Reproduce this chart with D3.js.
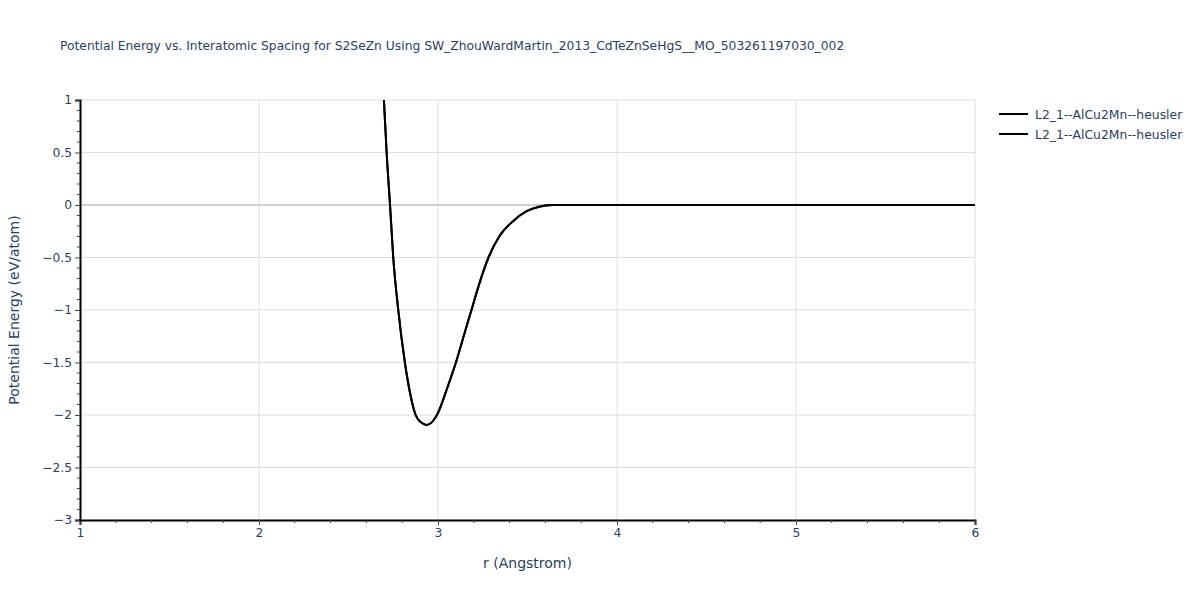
<!DOCTYPE html>
<html>
<head>
<meta charset="utf-8">
<script src="https://cdn.jsdelivr.net/npm/d3@7"></script>
<style>
  body { margin: 0; background: #fff; }
  svg { display: block; }
  text { font-family: "DejaVu Sans", Verdana, sans-serif; fill: #2a3f5f; }
</style>
</head>
<body>
<svg id="chart" width="1200" height="600"></svg>
<script>
const titleText = "Potential Energy vs. Interatomic Spacing for S2SeZn Using SW_ZhouWardMartin_2013_CdTeZnSeHgS__MO_503261197030_002";
const xTitle = "r (Angstrom)";
const yTitle = "Potential Energy (eV/atom)";
const seriesNames = ["L2_1--AlCu2Mn--heusler", "L2_1--AlCu2Mn--heusler"];
const xTicks = [1, 2, 3, 4, 5, 6];
const yTicks = [1, 0.5, 0, -0.5, -1, -1.5, -2, -2.5, -3];
const rValues = [2.68, 2.698, 2.713, 2.732, 2.750, 2.778, 2.815, 2.845, 2.875, 2.905, 2.937, 2.965, 3.000, 3.048, 3.100, 3.145, 3.187, 3.227, 3.282, 3.342, 3.416, 3.490, 3.565, 3.640, 3.700, 4.0, 5.0, 6.0];
const eValues = [1.6, 1.0, 0.5, 0.0, -0.5, -1.0, -1.5, -1.8, -2.0, -2.07, -2.095, -2.07, -1.98, -1.76, -1.5, -1.24, -1.0, -0.77, -0.5, -0.30, -0.159, -0.064, -0.016, -0.001, 0, 0, 0, 0];

const svg = d3.select("#chart");
const m = { left: 80, right: 975, top: 100, bottom: 520 };
const x = d3.scaleLinear().domain([1, 6]).range([m.left, m.right]);
const y = d3.scaleLinear().domain([-3, 1]).range([m.bottom, m.top]);

// grid
const g = svg.append("g");
g.selectAll(".vg").data(xTicks.slice(1)).enter().append("line")
  .attr("x1", d => x(d)).attr("x2", d => x(d)).attr("y1", m.top).attr("y2", m.bottom)
  .attr("stroke", "#dedede").attr("stroke-width", 1);
g.selectAll(".hg").data(yTicks.filter(d => d !== 0 && d !== -3)).enter().append("line")
  .attr("x1", m.left).attr("x2", m.right).attr("y1", d => y(d)).attr("y2", d => y(d))
  .attr("stroke", "#dedede").attr("stroke-width", 1);
// zero line
g.append("line").attr("x1", m.left).attr("x2", m.right).attr("y1", y(0)).attr("y2", y(0))
  .attr("stroke", "#cfcfcf").attr("stroke-width", 2);

// clip
svg.append("clipPath").attr("id", "clip").append("rect")
  .attr("x", m.left).attr("y", m.top).attr("width", m.right - m.left).attr("height", m.bottom - m.top);

const pts = rValues.map((r, i) => [r, eValues[i]]);
const line = d3.line().x(d => x(d[0])).y(d => y(d[1])).curve(d3.curveMonotoneX);
seriesNames.forEach(() => {
  svg.append("path").attr("clip-path", "url(#clip)").attr("d", line(pts))
    .attr("fill", "none").attr("stroke", "#000").attr("stroke-width", 2);
});

// axes
const xAxis = d3.axisBottom(x).tickValues(xTicks).tickSize(5).tickPadding(3).tickFormat(d3.format("d"));
const xa = svg.append("g").attr("transform", `translate(0,${m.bottom})`).call(xAxis);
const yAxis = d3.axisLeft(y).tickValues(yTicks).tickSize(5).tickPadding(3)
  .tickFormat(d => d3.format("")(d).replace("-", "\u2212"));
const ya = svg.append("g").attr("transform", `translate(${m.left},0)`).call(yAxis);
[xa, ya].forEach(a => {
  a.select(".domain").attr("stroke", "#000").attr("stroke-width", 2);
  a.selectAll(".tick line").attr("stroke", "#444");
  a.selectAll(".tick text").style("font-size", "12.3px").attr("fill", "#2a3f5f");
});
// minor ticks
const xMinor = d3.range(1, 6.001, 0.2).filter(v => Math.abs(v - Math.round(v)) > 1e-6);
svg.append("g").selectAll("line").data(xMinor).enter().append("line")
  .attr("x1", d => x(d)).attr("x2", d => x(d)).attr("y1", m.bottom).attr("y2", m.bottom + 3)
  .attr("stroke", "#444");
const yMinor = d3.range(-3, 1.001, 0.1).filter(v => Math.abs(v * 2 - Math.round(v * 2)) > 1e-6);
svg.append("g").selectAll("line").data(yMinor).enter().append("line")
  .attr("x1", m.left - 3).attr("x2", m.left).attr("y1", d => y(d)).attr("y2", d => y(d))
  .attr("stroke", "#444");

// titles
svg.append("text").attr("x", 60).attr("y", 50).style("font-size", "12.3px").text(titleText);
svg.append("text").attr("x", (m.left + m.right) / 2).attr("y", 568).attr("text-anchor", "middle")
  .style("font-size", "14px").text(xTitle);
svg.append("text").attr("transform", `translate(19,${(m.top + m.bottom) / 2}) rotate(-90)`)
  .attr("text-anchor", "middle").style("font-size", "14px").text(yTitle);

// legend
const lg = svg.append("g");
seriesNames.forEach((n, i) => {
  const yy = 114 + i * 20;
  lg.append("line").attr("x1", 999).attr("x2", 1028).attr("y1", yy).attr("y2", yy)
    .attr("stroke", "#000").attr("stroke-width", 2);
  lg.append("text").attr("x", 1035).attr("y", yy + 4.5).style("font-size", "12.4px").text(n);
});
</script>
</body>
</html>
